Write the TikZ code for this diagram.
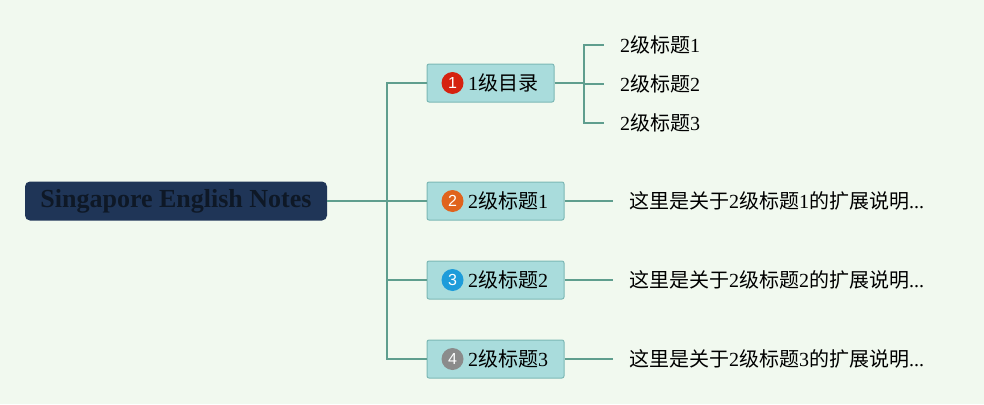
\documentclass[tikz,border=0pt]{standalone}
\usepackage{fontspec}
\setmainfont{Liberation Serif}
\newfontfamily\cjk{Noto Sans CJK SC}
\newfontfamily\badgefont{Liberation Sans}
\usepackage{tikz}
\usetikzlibrary{calc}
\definecolor{bgmint}{HTML}{F1F9EF}
\definecolor{branchline}{HTML}{5F9E8E}
\definecolor{rootfill}{HTML}{1F3557}
\definecolor{roottext}{HTML}{0E1826}
\definecolor{boxfill}{HTML}{A9DCDC}
\definecolor{boxline}{HTML}{7CB8B5}
\definecolor{numred}{HTML}{D52210}
\definecolor{numorange}{HTML}{E0631D}
\definecolor{numblue}{HTML}{1E9CDA}
\definecolor{numgray}{HTML}{8B8B8B}
\tikzset{
  rootbox/.style={fill=rootfill, rounded corners=5pt, minimum width=302pt, minimum height=39pt,
    text=roottext, font=\fontsize{26}{30}\selectfont\bfseries},
  lvlbox/.style={fill=boxfill, draw=boxline, line width=1pt, rounded corners=2pt,
    minimum height=38pt, inner xsep=16pt, text width=#1, align=right,
    font=\fontsize{20}{22}\selectfont},
  badge/.style={circle, minimum size=22pt, inner sep=0pt, text=white,
    font=\fontsize{16}{17}\selectfont\badgefont},
  leaf/.style={anchor=west, inner xsep=16pt, font=\fontsize{20}{22}\selectfont},
  branch/.style={draw=branchline, line width=1.6pt}
}
\begin{document}
\begin{tikzpicture}[x=1pt,y=-1pt]
  \fill[bgmint] (0,0) rectangle (984,404);
  \useasboundingbox (0,0) rectangle (984,404);

  \node[rootbox] (root) at (176,201) {Singapore English Notes};
  \node[lvlbox=105pt, node distance=319.5pt] (t2) [right of=root] {2{\cjk 级标题}1};
  \node[lvlbox=105pt, node distance=79pt] (t3) [below of=t2] {2{\cjk 级标题}2};
  \node[lvlbox=105pt, node distance=79pt] (t4) [below of=t3] {2{\cjk 级标题}3};
  \node[lvlbox=95pt, node distance=118pt, xshift=-5pt] (t1) [above of=t2] {1{\cjk 级目录}};

  \node[badge, fill=numred] (n1) at ($(t1.west)+(26,0)$) {1};
  \node[badge, fill=numorange] (n2) at ($(t2.west)+(26,0)$) {2};
  \node[badge, fill=numblue] (n3) at ($(t3.west)+(26,0)$) {3};
  \node[badge, fill=numgray] (n4) at ($(t4.west)+(26,0)$) {4};

  \coordinate (trunk) at (387,201);
  \coordinate (fork) at (584,83);
  \node[leaf] (s1) at (604,45) {2{\cjk 级标题}1};
  \node[leaf] (s2) at (604,84) {2{\cjk 级标题}2};
  \node[leaf] (s3) at (604,123) {2{\cjk 级标题}3};

  \node[leaf] (d2) at (613,201) {{\cjk 这里是关于}2{\cjk 级标题}1{\cjk 的扩展说明}...};
  \node[leaf] (d3) at (613,280) {{\cjk 这里是关于}2{\cjk 级标题}2{\cjk 的扩展说明}...};
  \node[leaf] (d4) at (613,359) {{\cjk 这里是关于}2{\cjk 级标题}3{\cjk 的扩展说明}...};

  \draw[branch] (root.east) -- (trunk);
  \draw[branch] (trunk) |- (t1.west);
  \draw[branch] (trunk) -- (t2.west);
  \draw[branch] (trunk) |- (t3.west);
  \draw[branch] (trunk) |- (t4.west);

  \draw[branch, line width=2.5pt] (t1.east) -- (fork);
  \draw[branch] (fork) |- (s1.west);
  \draw[branch] (fork) |- (s2.west);
  \draw[branch] (fork) |- (s3.west);

  \draw[branch] (t2.east) -- (d2.west);
  \draw[branch] (t3.east) -- (d3.west);
  \draw[branch] (t4.east) -- (d4.west);
\end{tikzpicture}
\end{document}
